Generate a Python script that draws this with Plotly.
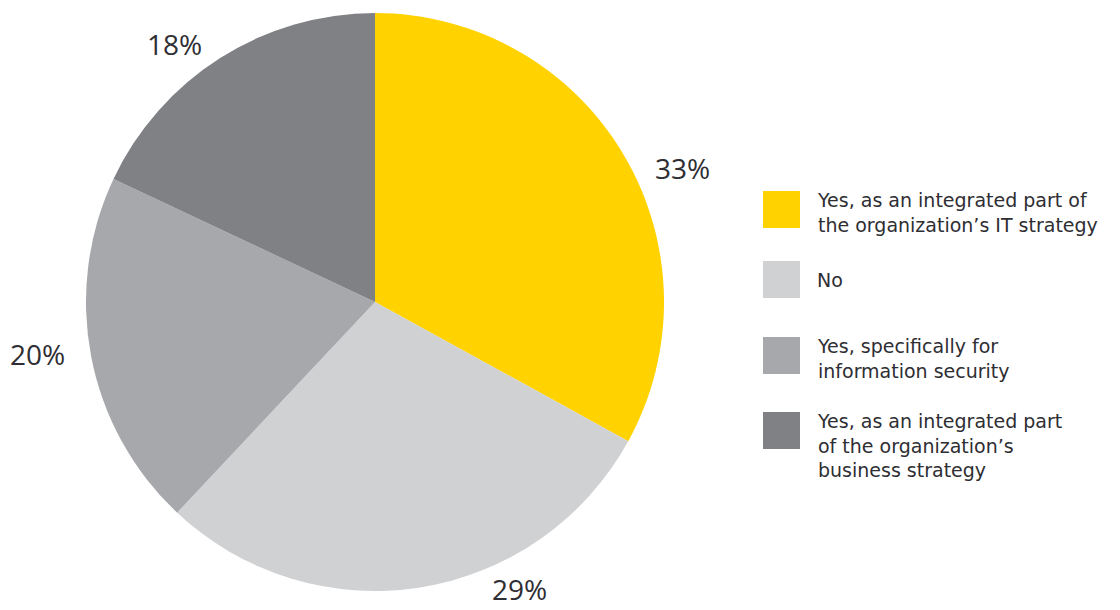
import math
import plotly.graph_objects as go

# Survey answers, in drawing order (clockwise from 12 o'clock)
labels = [
    "Yes, as an integrated part of<br>the organization’s IT strategy",
    "No",
    "Yes, specifically for<br>information security",
    "Yes, as an integrated part<br>of the organization’s<br>business strategy",
]
values = [33, 29, 20, 18]
colors = ["#FFD200", "#D0D1D3", "#A7A8AB", "#808185"]

W, H = 1120, 610
TEXT = "#2e2e33"

# pie geometry in pixels
cx, cy, R = 375, 302, 289

def px(x):
    return x / W

def py(y):
    return 1 - y / H

fig = go.Figure()
fig.add_trace(go.Pie(
    labels=labels,
    values=values,
    marker=dict(colors=colors, line=dict(width=0)),
    sort=False,
    direction="clockwise",
    rotation=0,
    textinfo="none",
    hoverinfo="label+percent",
    showlegend=False,
    domain=dict(x=[px(cx - R), px(cx + R)], y=[py(cy + R), py(cy - R)]),
))

# percentage labels placed outside each slice, around its mid-angle
angle_nudge = [7, -17.8, 2, -5.5]      # degrees
radius_factor = [1.16, 1.112, 1.18, 1.13]
total = sum(values)
start = 0.0
annotations = []
for i, v in enumerate(values):
    span = 360.0 * v / total
    mid = start + span / 2 + angle_nudge[i]
    start += span
    r = R * radius_factor[i]
    x = cx + r * math.sin(math.radians(mid))
    y = cy - r * math.cos(math.radians(mid))
    annotations.append(dict(
        x=px(x), y=py(y), xref="paper", yref="paper",
        text=f"{v}%", showarrow=False,
        xanchor="center", yanchor="middle",
        font=dict(family="Open Sans", size=28, color=TEXT),
    ))

# legend: swatches and wrapped captions
sw_x0, sw_size = 763, 37
sw_tops = [191, 261, 337, 412]
shapes = []
for i, lab in enumerate(labels):
    top = sw_tops[i]
    shapes.append(dict(
        type="rect", xref="paper", yref="paper",
        x0=px(sw_x0), x1=px(sw_x0 + sw_size),
        y0=py(top + sw_size), y1=py(top),
        fillcolor=colors[i], line=dict(width=0),
    ))
    n_lines = lab.count("<br>") + 1
    if n_lines == 1:
        ty, ya = top + sw_size / 2, "middle"
    else:
        ty, ya = top - 4, "top"
    annotations.append(dict(
        x=px(815), y=py(ty), xref="paper", yref="paper",
        text=lab, showarrow=False, align="left",
        xanchor="left", yanchor=ya,
        font=dict(family="DejaVu Sans", size=19, color=TEXT),
    ))

fig.update_layout(
    width=W, height=H,
    margin=dict(l=0, r=0, t=0, b=0),
    paper_bgcolor="white",
    plot_bgcolor="white",
    annotations=annotations,
    shapes=shapes,
)

fig.write_html("out.html")
